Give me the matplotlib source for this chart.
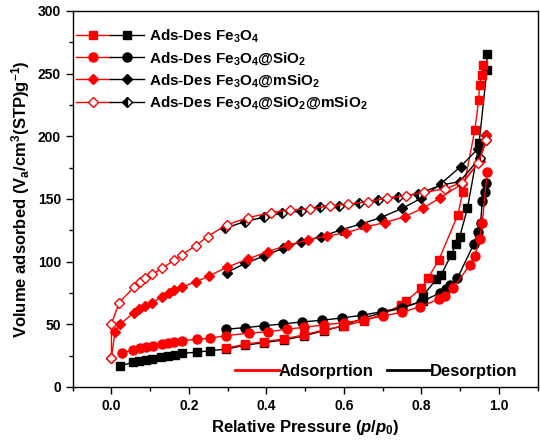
import matplotlib
matplotlib.use("Agg")
import matplotlib.pyplot as plt
from matplotlib.lines import Line2D
from matplotlib.legend_handler import HandlerTuple
from matplotlib.ticker import MultipleLocator

# Fe3O4
fe_ads_x = [0.295, 0.344, 0.394, 0.445, 0.496, 0.548, 0.600, 0.651, 0.701, 0.748, 0.761,
            0.800, 0.817, 0.845, 0.894, 0.907, 0.938, 0.948, 0.950, 0.956, 0.959]
fe_ads_y = [30.9, 34.1, 36.2, 38.3, 41.5, 45.5, 48.7, 52.7, 58.3, 65.4, 68.6,
            78.8, 86.8, 101.4, 137.3, 155.9, 205.1, 229.0, 241.0, 249.0, 257.0]
fe_des_x = [0.969, 0.969, 0.949, 0.919, 0.899, 0.889, 0.877, 0.851, 0.839, 0.803, 0.803,
            0.748, 0.699, 0.649, 0.598, 0.548, 0.496, 0.445, 0.394, 0.344, 0.295, 0.254,
            0.221, 0.182, 0.163, 0.146, 0.129, 0.105, 0.088, 0.071, 0.056, 0.023]
fe_des_y = [265.8, 253.0, 194.5, 142.6, 120.0, 114.1, 105.3, 89.6, 86.0, 72.6, 68.6,
            62.8, 59.3, 54.8, 48.7, 44.9, 40.7, 37.5, 35.4, 33.3, 30.1, 29.0,
            27.7, 26.9, 25.8, 24.7, 23.7, 22.3, 21.5, 20.8, 19.7, 17.0]

# Fe3O4@SiO2
si_ads_x = [0.028, 0.056, 0.073, 0.090, 0.107, 0.131, 0.146, 0.161, 0.181, 0.222, 0.254,
            0.295, 0.354, 0.404, 0.454, 0.496, 0.548, 0.600, 0.651, 0.701, 0.750, 0.797,
            0.845, 0.860, 0.882, 0.925, 0.938, 0.950, 0.957, 0.970]
si_ads_y = [27.4, 29.5, 30.9, 31.9, 33.0, 34.3, 35.1, 35.9, 37.0, 38.1, 38.9,
            40.9, 42.9, 44.1, 46.1, 47.6, 49.5, 51.3, 53.5, 56.7, 59.6, 64.1,
            70.0, 72.5, 78.8, 97.4, 104.8, 118.0, 131.0, 171.8]
si_des_x = [0.966, 0.963, 0.957, 0.953, 0.946, 0.935, 0.893, 0.875, 0.863, 0.847, 0.800,
            0.750, 0.698, 0.647, 0.595, 0.543, 0.492, 0.443, 0.394, 0.344, 0.295]
si_des_y = [162.6, 155.4, 148.4, 130.6, 123.5, 113.9, 86.8, 81.5, 78.0, 74.8, 68.1,
            63.3, 60.1, 57.2, 55.1, 53.2, 51.9, 50.3, 48.9, 47.3, 46.1]

# Fe3O4@mSiO2
ms_ads_x = [0.000, 0.009, 0.023, 0.058, 0.071, 0.086, 0.106, 0.131, 0.148, 0.162, 0.181,
            0.219, 0.252, 0.298, 0.353, 0.404, 0.456, 0.507, 0.557, 0.606, 0.658, 0.705,
            0.757, 0.804, 0.847, 0.905, 0.950, 0.968]
ms_ads_y = [23.0, 44.1, 50.3, 59.3, 62.2, 64.6, 67.3, 72.1, 74.8, 77.4, 79.6,
            84.0, 88.6, 95.5, 102.2, 108.0, 113.3, 117.3, 120.5, 123.1, 127.9, 131.1,
            135.9, 142.6, 150.6, 162.0, 180.0, 201.1]
ms_des_x = [0.968, 0.946, 0.901, 0.850, 0.800, 0.751, 0.695, 0.645, 0.592, 0.542, 0.490,
            0.443, 0.394, 0.346, 0.297]
ms_des_y = [201.1, 190.0, 175.8, 162.0, 150.6, 142.6, 135.1, 130.1, 125.3, 120.0, 116.0,
            110.7, 104.5, 98.7, 91.2]

# Fe3O4@SiO2@mSiO2
sm_ads_x = [0.000, 0.000, 0.020, 0.058, 0.073, 0.086, 0.106, 0.131, 0.162, 0.181, 0.218,
            0.248, 0.297, 0.353, 0.411, 0.460, 0.512, 0.563, 0.611, 0.662, 0.710, 0.761,
            0.808, 0.860, 0.905, 0.946, 0.968]
sm_ads_y = [23.0, 50.3, 67.3, 79.6, 84.0, 86.8, 89.9, 94.7, 101.1, 105.3, 112.8,
            120.0, 129.3, 135.1, 139.1, 141.3, 142.0, 144.4, 145.8, 147.9, 150.6, 152.7,
            155.4, 158.0, 163.0, 178.5, 197.0]
sm_des_x = [0.968, 0.950, 0.899, 0.852, 0.791, 0.740, 0.688, 0.639, 0.587, 0.538, 0.490,
            0.439, 0.393, 0.344, 0.294]
sm_des_y = [197.0, 182.5, 163.8, 161.2, 154.0, 151.9, 149.2, 146.6, 144.7, 143.9, 140.5,
            138.6, 135.4, 131.9, 126.7]

labels = [
    "Ads-Des Fe$_3$O$_4$",
    "Ads-Des Fe$_3$O$_4$@SiO$_2$",
    "Ads-Des Fe$_3$O$_4$@mSiO$_2$",
    "Ads-Des Fe$_3$O$_4$@SiO$_2$@mSiO$_2$",
]

plt.rcParams["font.family"] = ["Liberation Sans", "DejaVu Sans"]
plt.rcParams["font.weight"] = "bold"
plt.rcParams["mathtext.fontset"] = "custom"
plt.rcParams["mathtext.rm"] = "Liberation Sans:bold"
plt.rcParams["mathtext.bf"] = "Liberation Sans:bold"
plt.rcParams["mathtext.it"] = "Liberation Sans:italic:bold"
plt.rcParams["mathtext.default"] = "bf"

fig = plt.figure(figsize=(5.4, 4.44), dpi=100)
ax = fig.add_axes([0.1346, 0.1284, 0.861, 0.847])

# (x_ads, y_ads, x_des, y_des, marker, ads face, des face, des fill style)
series = [
    (fe_ads_x, fe_ads_y, fe_des_x, fe_des_y, "s", "red", "black", "full"),
    (si_ads_x, si_ads_y, si_des_x, si_des_y, "o", "red", "black", "full"),
    (ms_ads_x, ms_ads_y, ms_des_x, ms_des_y, "D", "red", "black", "full"),
    (sm_ads_x, sm_ads_y, sm_des_x, sm_des_y, "D", "white", "black", "left"),
]
sizes = {"s": 6, "o": 6.5, "D": 5.5}

handles = []
for xa, ya, xd, yd, mk, face_a, face_d, fs in series:
    ms = sizes[mk]
    des, = ax.plot(xd, yd, color="black", lw=1.0, marker=mk, ms=ms,
                   mfc=face_d, mec="black", fillstyle=fs,
                   markerfacecoloralt="white")
    ads, = ax.plot(xa, ya, color="red", lw=1.0, marker=mk, ms=ms,
                   mfc=face_a, mec="red")
    handles.append((ads, des))

ax.set_xlim(-0.1, 1.1)
ax.set_ylim(0, 300)
ax.xaxis.set_major_locator(MultipleLocator(0.2))
ax.xaxis.set_minor_locator(MultipleLocator(0.1))
ax.yaxis.set_major_locator(MultipleLocator(50))
ax.yaxis.set_minor_locator(MultipleLocator(25))
ax.set_xticks([0.0, 0.2, 0.4, 0.6, 0.8, 1.0])
ax.tick_params(which="major", direction="out", length=5, width=1, labelsize=10)
ax.tick_params(which="minor", direction="out", length=3, width=1)
for sp in ax.spines.values():
    sp.set_linewidth(1.0)

ax.set_xlabel("Relative Pressure ($\\mathit{p/p_0}$)", fontsize=12, fontweight="bold")
ax.set_ylabel("Volume adsorbed (V$_a$/cm$^3$(STP)g$^{-1}$)", fontsize=12,
              fontweight="bold")

leg1 = ax.legend(handles, labels, loc="upper left", bbox_to_anchor=(-0.005, 0.973),
                 handler_map={tuple: HandlerTuple(ndivide=None, pad=0)},
                 frameon=False, fontsize=11, handlelength=4.45, handletextpad=0.33,
                 labelspacing=0.36, borderaxespad=0.0, numpoints=1)
ax.add_artist(leg1)

line_handles = [Line2D([], [], color="red", lw=2), Line2D([], [], color="black", lw=2)]
ax.legend(line_handles, ["Adsorprtion", "Desorption"], loc="lower right",
          bbox_to_anchor=(0.975, 0.0),
          ncol=2, frameon=False, fontsize=12, handlelength=2.6, handletextpad=0.0,
          columnspacing=0.8, borderaxespad=0.2, borderpad=0.3)

fig.savefig("out.png", dpi=100)
